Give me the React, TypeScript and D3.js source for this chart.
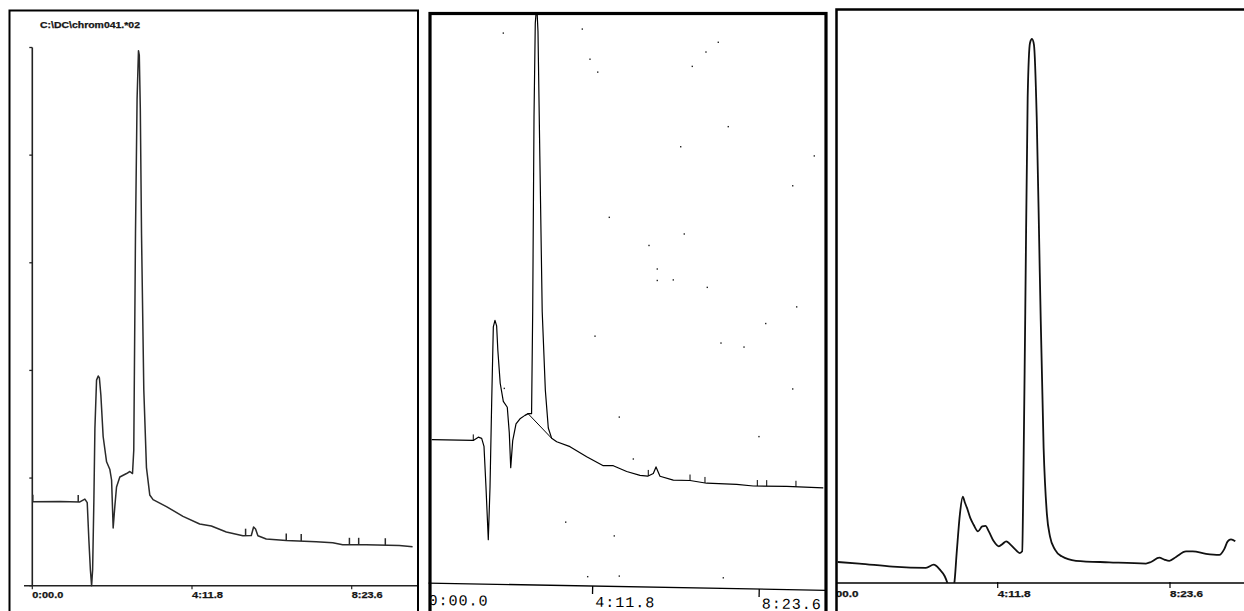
import React from "react";
import * as d3 from "d3";

const W = 1244;
const H = 611;

// ---------- data (time in seconds, detector signal in arbitrary units) ----------
const timeTicks = [0, 251.8, 503.6];
const p1YTicks = [0, 100, 200, 300, 400, 500];
const p1Title = "C:\\DC\\chrom041.*02";

const p1Trace: [number, number][] = [
  [0, 78.1], [43.6, 78.2], [75, 77.8], [82.9, 80.5], [86.6, 77.2], [89.2, 42.5],
  [91.6, 14.6], [93.5, 0], [95.1, 14.6], [97.1, 79.6], [98.7, 145.9], [101.3, 191],
  [103.9, 194.8], [105.8, 193], [108.1, 177.2], [111.7, 138.6], [117.1, 115.1],
  [122.3, 107.9], [125, 98.2], [127.5, 53.6], [130.1, 73.5], [132.8, 91.7],
  [138, 101], [148.6, 104.2], [153.8, 106.1], [158, 104.2], [160, 126.1],
  [162.7, 326.9], [165.2, 451.8], [167.4, 497], [168.7, 493], [170.3, 442.9],
  [172.2, 326.9], [175.8, 182.1], [180, 109.7], [185.2, 84.3], [190.4, 80],
  [211.5, 73.5], [237.6, 64.4], [263.9, 57.3], [282.3, 55.5], [305.9, 49.9],
  [332.1, 46.4], [345.3, 46.6], [348.9, 54.5], [352, 52.7], [355.7, 46.4],
  [368.9, 43.4], [400.4, 42], [447.6, 40.9], [473.7, 39.9], [489.4, 38],
  [526.2, 38], [578.7, 37.3], [599.6, 36.1],
];
const p1Markers = [0.8, 72.4, 336.3, 400.4, 424, 500, 514.6, 556.6];

const p2Trace: [number, number][] = [
  [8.5, 25.68], [71.3, 25.54], [78.9, 26.1], [84, 25.89], [87.5, 24.5],
  [90.5, 17.42], [94, 8.24], [96.6, 17.42], [99.1, 32.1], [101.6, 45.3],
  [104.1, 46.46], [106.6, 45.5], [108.4, 41.3], [112, 35.5], [116.7, 32.33],
  [122.7, 31.32], [125.7, 26.9], [127.9, 20.78], [130.9, 25.5], [135.9, 28.4],
  [141.9, 29.3], [149.4, 29.9], [154.4, 30.2], [159.4, 30.2], [161.1, 47.94],
  [163.1, 81.88], [165, 98.19], [167.2, 101.5], [169.1, 96.83], [171.9, 75.09],
  [175.5, 47.94], [180.2, 34.32], [184.7, 27.7], [189.8, 25.9], [197.4, 25.31],
  [217.5, 24.45], [242.7, 22.7], [267.8, 21.13], [282.9, 21.13], [303.2, 20.12],
  [323.3, 19.44], [334.9, 19.3], [343.4, 19.77], [347.5, 20.92], [353.5, 19.3],
  [373.6, 18.62], [398.9, 18.55], [424.1, 18.08], [469.4, 17.87], [494.5, 17.6],
  [545, 17.53], [600.3, 17.26],
];
const p2Baseline: [number, number][] = [[153.3, 30.3], [189.8, 25.9]];
const p2Markers = [71.3, 335.8, 398.9, 421.5, 500.6, 514.8, 559];
const p2Specks: [number, number][] = [
  [116.7, 96.5], [236.1, 97.2], [247.7, 91.95], [259.4, 89.7], [441.6, 94.9],
  [423, 93.2], [402.3, 90.7], [456.7, 80.2], [384.8, 76.7], [586.7, 75.1],
  [554.1, 69.9], [276.9, 64.4], [390.2, 61.5], [336.9, 59.5], [349.4, 55.4],
  [349.4, 53.4], [373.6, 53.5], [425, 52.2], [513.3, 45.9], [560.1, 48.8],
  [255.3, 43.7], [445.7, 42.5], [480.5, 41.8], [554.1, 34.5], [292, 29.6],
  [503.1, 26.2], [313.2, 22.3], [211, 11.3], [284.4, 8.9], [244.2, 1.8],
  [292, 1.9], [449.2, 1.6], [118.2, 34.6],
];

const p3Trace: [number, number][] = [
  [18, 3.86], [49.5, 3.58], [98.4, 3.01], [147, 2.79], [158.3, 3.36], [167, 2.5],
  [174.4, 1.24], [178.3, 0], [182.8, -2], [188.4, 0], [191.8, 5.45], [196.7, 12.8],
  [200.7, 15.89], [203.8, 14.8], [206.9, 13.8], [211.7, 11.96], [216.6, 10.7],
  [223, 9.5], [229.2, 10.4], [234, 10.5], [238.8, 9.5], [246.1, 7.66],
  [253.4, 6.74], [259.2, 7.23], [264.2, 7.66], [270.5, 7.05], [277.8, 6.13],
  [284.1, 5.51], [287.6, 5.82], [289.2, 17.69], [292.1, 49.89], [295.6, 89.27],
  [299, 99.28], [301.9, 100], [304.8, 98.93], [308.8, 85.69], [313.3, 57.05],
  [318.9, 24.83], [323.7, 12.67], [328.2, 8.58], [335.5, 6.13], [345.3, 4.9],
  [366.2, 4.08], [414.9, 3.8], [468.5, 3.58], [475.8, 3.86], [488, 4.65],
  [495.3, 4.3], [502.6, 4.08], [512.4, 4.79], [527, 5.8], [536.8, 5.8],
  [556.2, 5.36], [575.6, 5.16], [582.9, 6.23], [587.9, 7.66], [592.7, 8.03],
  [599, 7.66],
];

// ---------- helpers ----------
const fmt = (t: number) =>
  `${Math.floor(t / 60)}:${(t % 60).toFixed(1).padStart(4, "0")}`;

function valueAt(trace: [number, number][], t: number) {
  const i = d3.bisector((d: [number, number]) => d[0]).left(trace, t);
  if (i <= 0) return trace[0][1];
  if (i >= trace.length) return trace[trace.length - 1][1];
  const [t0, v0] = trace[i - 1];
  const [t1, v1] = trace[i];
  return v0 + ((v1 - v0) * (t - t0)) / (t1 - t0);
}

// ---------- scales ----------
const x1 = d3.scaleLinear().domain([0, 503.6]).range([32.3, 351.7]);
const y1 = d3.scaleLinear().domain([0, 500]).range([585.7, 47.5]);
const x2 = d3.scaleLinear().domain([0, 503.6]).range([426.1, 759.3]);
const y2 = d3.scaleLinear().domain([0, 100]).range([587, 13]);
const x3 = d3.scaleLinear().domain([0, 503.6]).range([825.4, 1170]);
const y3 = d3.scaleLinear().domain([0, 100]).range([583, 39]);

const line1 = d3.line<[number, number]>().x((d) => x1(d[0])).y((d) => y1(d[1]));
const line2 = d3.line<[number, number]>().x((d) => x2(d[0])).y((d) => y2(d[1]));
const line3 = d3
  .line<[number, number]>()
  .x((d) => x3(d[0]))
  .y((d) => y3(d[1]))
  .curve(d3.curveMonotoneX);

const boldLabel = {
  fontFamily: "'Liberation Sans', Arial, sans-serif",
  fontWeight: 700,
  fontSize: 8.5,
  fill: "#151515",
  stroke: "#151515",
  strokeWidth: 0.25,
} as const;

export default function App() {
  React.useEffect(() => {
    document.body.style.margin = "0";
  }, []);

  return (
    <svg
      width={W}
      height={H}
      viewBox={`0 0 ${W} ${H}`}
      style={{ display: "block", background: "#fff" }}
    >
      <defs>
        <clipPath id="c2">
          <rect x={428.5} y={13} width={397} height={H} />
        </clipPath>
        <clipPath id="c3">
          <rect x={836.5} y={9} width={W} height={H} />
        </clipPath>
        <clipPath id="c3plot">
          <rect x={836.5} y={9} width={W} height={y3(0) - 9} />
        </clipPath>
      </defs>
      <rect width={W} height={H} fill="#fff" />

      {/* ================= Panel 1 ================= */}
      <g>
        <text x={40} y={28} {...boldLabel} fontSize={8.5} textLength={100} lengthAdjust="spacingAndGlyphs">
          {p1Title}
        </text>
        {/* y axis */}
        <line x1={x1(0)} x2={x1(0)} y1={y1(500)} y2={y1(0)} stroke="#222" strokeWidth={1.6} />
        {p1YTicks.map((v) => (
          <line key={v} x1={x1(0) - 3} x2={x1(0)} y1={y1(v)} y2={y1(v)} stroke="#222" strokeWidth={1.3} />
        ))}
        {/* x axis */}
        <line x1={24} x2={419} y1={y1(0)} y2={y1(0)} stroke="#222" strokeWidth={1.6} />
        {timeTicks.map((t) => (
          <g key={t}>
            <line x1={x1(t)} x2={x1(t)} y1={y1(0)} y2={y1(0) + 3.5} stroke="#222" strokeWidth={1.2} />
            <text x={x1(t)} y={597.5} {...boldLabel} textLength={31} lengthAdjust="spacingAndGlyphs">
              {fmt(t)}
            </text>
          </g>
        ))}
        <path d={line1(p1Trace) ?? ""} fill="none" stroke="#2a2a2a" strokeWidth={1.5} strokeLinejoin="round" />
        {p1Markers.map((t) => (
          <line
            key={t}
            x1={x1(t)}
            x2={x1(t)}
            y1={y1(valueAt(p1Trace, t))}
            y2={y1(valueAt(p1Trace, t)) - 7}
            stroke="#2a2a2a"
            strokeWidth={1.5}
          />
        ))}
        <rect x={9.5} y={10.5} width={408.5} height={H + 10} fill="none" stroke="#000" strokeWidth={2} />
      </g>

      {/* ================= Panel 2 ================= */}
      <g clipPath="url(#c2)">
        <g transform="rotate(1.05, 426, 583)">
          <line x1={426} x2={830} y1={583} y2={583} stroke="#000" strokeWidth={1.3} />
          {timeTicks.map((t) => (
            <line key={t} x1={x2(t)} x2={x2(t)} y1={583} y2={591} stroke="#000" strokeWidth={1.3} />
          ))}
        </g>
        <g transform="rotate(0.6, 426, 605)">
          {timeTicks.map((t) => (
            <text
              key={t}
              x={x2(t) + 2.5}
              y={605}
              fontFamily="'Liberation Mono', 'DejaVu Sans Mono', monospace"
              fontSize={15}
              letterSpacing={1}
              fill="#000"
            >
              {fmt(t)}
            </text>
          ))}
        </g>
        {p2Specks.map(([t, v], i) => (
          <rect key={i} x={x2(t) - 0.7} y={y2(v) - 0.7} width={1.4} height={1.4} fill="#222" />
        ))}
        <path d={line2(p2Baseline) ?? ""} fill="none" stroke="#000" strokeWidth={1} />
        <path d={line2(p2Trace) ?? ""} fill="none" stroke="#000" strokeWidth={1.2} strokeLinejoin="round" />
        {p2Markers.map((t) => (
          <line
            key={t}
            x1={x2(t)}
            x2={x2(t)}
            y1={y2(valueAt(p2Trace, t))}
            y2={y2(valueAt(p2Trace, t)) - 6}
            stroke="#000"
            strokeWidth={1}
          />
        ))}
      </g>
      <rect x={430} y={13.5} width={396} height={H + 10} fill="none" stroke="#000" strokeWidth={3.2} />

      {/* ================= Panel 3 ================= */}
      <g clipPath="url(#c3)">
        <line x1={836} x2={W} y1={y3(0)} y2={y3(0)} stroke="#000" strokeWidth={1.5} />
        {timeTicks.map((t) => (
          <g key={t}>
            <line x1={x3(t)} x2={x3(t)} y1={y3(0) - 1} y2={y3(0) + 5} stroke="#000" strokeWidth={1.2} />
            <text x={x3(t)} y={596.8} {...boldLabel} fontSize={8.3} textLength={33} lengthAdjust="spacingAndGlyphs">
              {fmt(t)}
            </text>
          </g>
        ))}
        <g clipPath="url(#c3plot)">
          <path d={line3(p3Trace) ?? ""} fill="none" stroke="#111" strokeWidth={1.8} strokeLinejoin="round" />
        </g>
      </g>
      <rect x={836.5} y={9.5} width={W} height={H + 10} fill="none" stroke="#000" strokeWidth={2.5} />
    </svg>
  );
}
